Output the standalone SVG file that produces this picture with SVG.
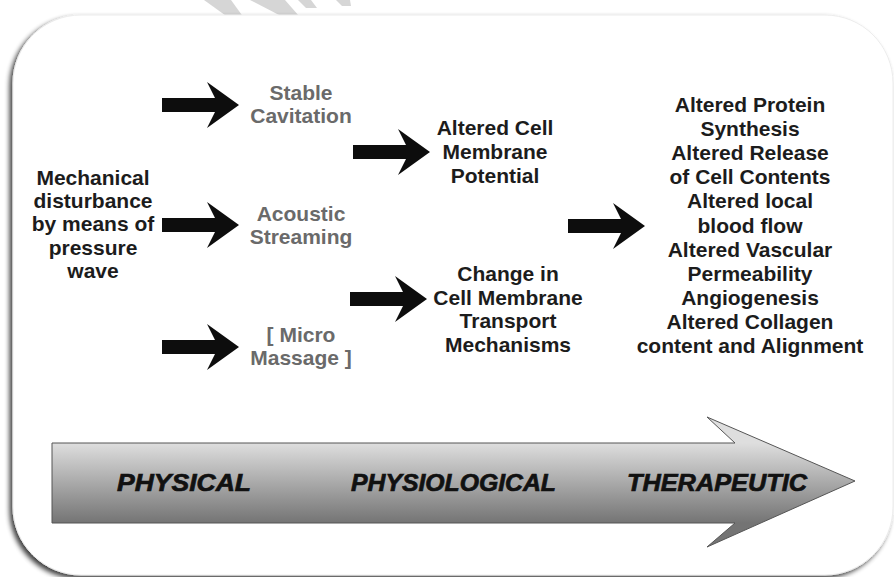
<svg xmlns="http://www.w3.org/2000/svg" width="894" height="577" viewBox="0 0 894 577">
  <style>
    .t { font-family: "Liberation Sans", Arial, sans-serif; font-weight: bold; font-size: 21px; text-anchor: middle; }
    .dark { fill: #1c1c1c; }
    .grey { fill: #6a6a6a; }
    .phase { font-family: "Liberation Sans", Arial, sans-serif; font-weight: bold; font-style: italic; font-size: 24px; fill: #111; stroke: #111; stroke-width: 0.7; }
    .blk { fill: #0d0d0d; }
    .wm { fill: #d6d6d6; }
  </style>
  <defs>
    <filter id="shadow" x="-5%" y="-5%" width="110%" height="110%">
      <feGaussianBlur in="SourceAlpha" stdDeviation="2.5"/>
      <feOffset dx="-3" dy="3" result="b"/>
      <feComponentTransfer><feFuncA type="linear" slope="0.75"/></feComponentTransfer>
      <feMerge><feMergeNode/><feMergeNode in="SourceGraphic"/></feMerge>
    </filter>
    <linearGradient id="bigGrad" gradientUnits="userSpaceOnUse" x1="0" y1="443" x2="0" y2="523">
      <stop offset="0" stop-color="#dedede"/>
      <stop offset="0.5" stop-color="#a9a9a9"/>
      <stop offset="1" stop-color="#747474"/>
    </linearGradient>
    <path id="arw" d="M0,-7 L53,-7 L45,-23 L77,0 L45,23 L53,7 L0,7 Z"/>
  </defs>

  <rect width="894" height="577" fill="#ffffff"/>
  <g id="watermark">
    <polygon class="wm" points="204,0 231,0 244,18 229,18"/>
    <polygon class="wm" points="250,0 285,0 299,16 281,16"/>
    <polygon class="wm" points="298,0 311,0 317,8 306,8"/>
    <polygon class="wm" points="336,0 350,0 351,6 342,6"/>
  </g>

  <g id="panel">
    <rect x="13" y="15" width="880" height="560" rx="68" ry="68" fill="#ffffff" stroke="#ececec" stroke-width="1" filter="url(#shadow)"/>
  </g>

  <g id="connectors">
    <use href="#arw" class="blk" transform="translate(162,105)"/>
    <use href="#arw" class="blk" transform="translate(162,225)"/>
    <use href="#arw" class="blk" transform="translate(162,347)"/>
    <use href="#arw" class="blk" transform="translate(353,152)"/>
    <use href="#arw" class="blk" transform="translate(350,299)"/>
    <use href="#arw" class="blk" transform="translate(568,226)"/>
  </g>

  <g id="node-mechanical">
    <text class="t dark" x="93" y="185">Mechanical</text>
    <text class="t dark" x="93" y="208">disturbance</text>
    <text class="t dark" x="93" y="231">by means of</text>
    <text class="t dark" x="93" y="255">pressure</text>
    <text class="t dark" x="93" y="278">wave</text>
  </g>

  <g id="node-stable-cavitation">
    <text class="t grey" x="301" y="100">Stable</text>
    <text class="t grey" x="301" y="123">Cavitation</text>
  </g>

  <g id="node-acoustic-streaming">
    <text class="t grey" x="301" y="221">Acoustic</text>
    <text class="t grey" x="301" y="244">Streaming</text>
  </g>

  <g id="node-micro-massage">
    <text class="t grey" x="301" y="342">[ Micro</text>
    <text class="t grey" x="301" y="365">Massage ]</text>
  </g>

  <g id="node-membrane-potential">
    <text class="t dark" x="495" y="135">Altered Cell</text>
    <text class="t dark" x="495" y="159">Membrane</text>
    <text class="t dark" x="495" y="183">Potential</text>
  </g>

  <g id="node-membrane-transport">
    <text class="t dark" x="508" y="281">Change in</text>
    <text class="t dark" x="508" y="305">Cell Membrane</text>
    <text class="t dark" x="508" y="328">Transport</text>
    <text class="t dark" x="508" y="352">Mechanisms</text>
  </g>

  <g id="node-therapeutic-effects">
    <text class="t dark" x="750" y="112">Altered Protein</text>
    <text class="t dark" x="750" y="136">Synthesis</text>
    <text class="t dark" x="750" y="160">Altered Release</text>
    <text class="t dark" x="750" y="184">of Cell Contents</text>
    <text class="t dark" x="750" y="208">Altered local</text>
    <text class="t dark" x="750" y="233">blood flow</text>
    <text class="t dark" x="750" y="257">Altered Vascular</text>
    <text class="t dark" x="750" y="281">Permeability</text>
    <text class="t dark" x="750" y="305">Angiogenesis</text>
    <text class="t dark" x="750" y="329">Altered Collagen</text>
    <text class="t dark" x="750" y="353">content and Alignment</text>
  </g>

  <g id="phase-arrow">
    <path d="M52,443 L735,443 L707,417 L855,481 L707,547 L735,523 L52,523 Z" fill="url(#bigGrad)" stroke="#555555" stroke-width="1"/>
    <text class="phase" x="117" y="491" textLength="134" lengthAdjust="spacingAndGlyphs">PHYSICAL</text>
    <text class="phase" x="351" y="491" textLength="205" lengthAdjust="spacingAndGlyphs">PHYSIOLOGICAL</text>
    <text class="phase" x="627" y="491" textLength="180" lengthAdjust="spacingAndGlyphs">THERAPEUTIC</text>
  </g>
</svg>
